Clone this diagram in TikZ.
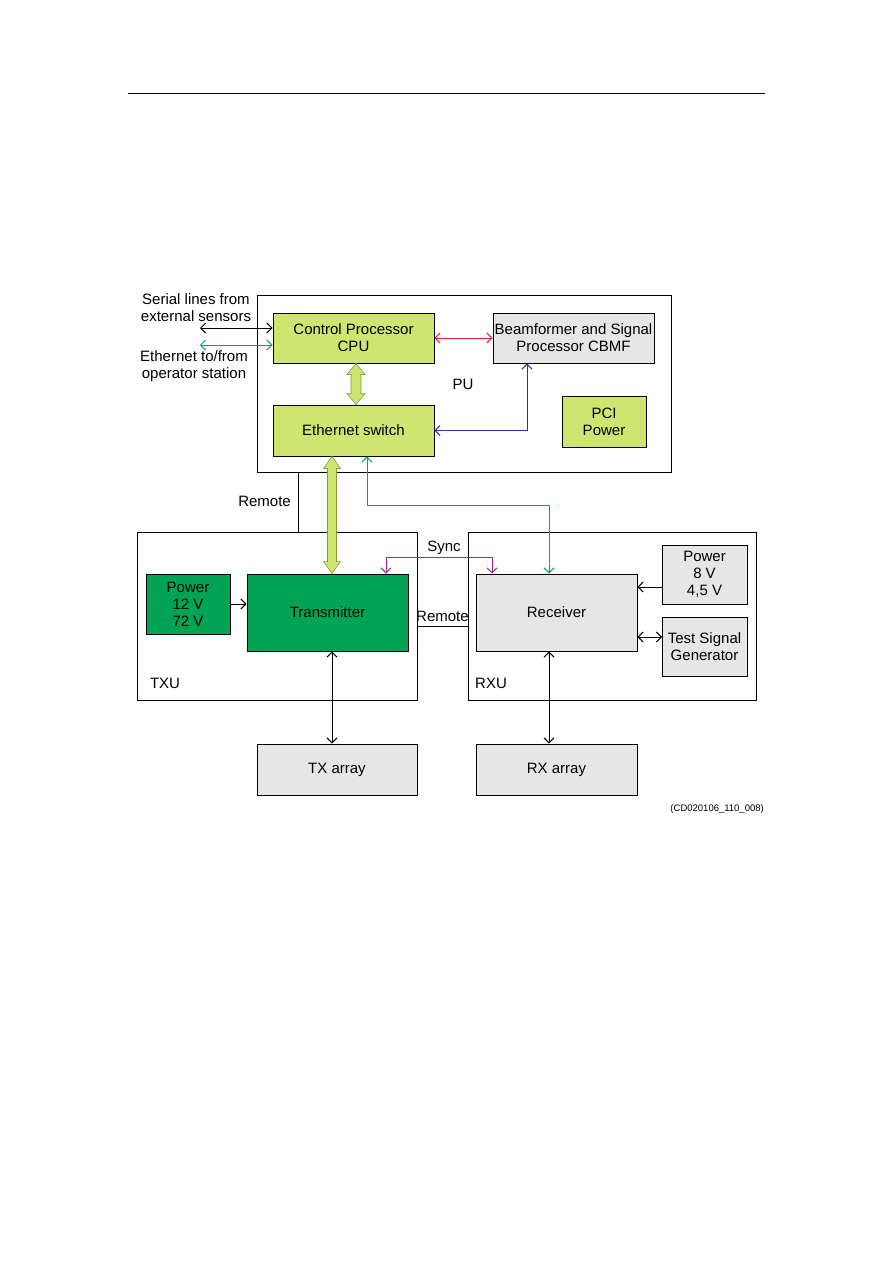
\documentclass[tikz,border=0pt]{standalone}
\usepackage{fontspec}
\setmainfont{Liberation Sans}
\usetikzlibrary{arrows.meta,calc}
\definecolor{lgreen}{RGB}{206,230,112}
\definecolor{dgreen}{RGB}{0,164,82}
\definecolor{lgrey}{RGB}{230,230,230}
\definecolor{tgreen}{RGB}{0,166,110}
\definecolor{purp}{RGB}{160,40,150}
\definecolor{navy}{RGB}{50,50,150}
\definecolor{redl}{RGB}{230,30,45}
\definecolor{olive}{RGB}{130,155,50}
\begin{document}
\begin{tikzpicture}[x=1pt,y=-1pt,
  every node/.style={font=\fontsize{15}{17}\selectfont, inner sep=0pt, align=center},
  frame/.style={draw, line width=0.9pt, fill=white},
  box/.style={draw, line width=0.9pt},
  lg/.style={box, fill=lgreen},
  dg/.style={box, fill=dgreen},
  gr/.style={box, fill=lgrey},
  tip/.style={line width=1pt, -{Straight Barb[length=5pt,width=10pt]}},
  dtip/.style={line width=1pt, {Straight Barb[length=5pt,width=10pt]}-{Straight Barb[length=5pt,width=10pt]}},
  fat/.style={draw=olive, fill=lgreen, line width=0.6pt, line join=miter},
  plain/.style={line width=0.9pt}
]
\useasboundingbox (0,0) rectangle (893,1263);
\draw[plain] (128,93) -- (765,93);

% PU
\node[frame, minimum width=414, minimum height=177] (pu) at (464,383.5) {};
\node[lg, minimum width=161, minimum height=50] (cpu) at (353.5,338) {Control Processor\\CPU};
\node[gr, minimum width=161, minimum height=50] (cbmf) at (573.5,338) {Beamformer and Signal\\Processor CBMF};
\node[lg, minimum width=161, minimum height=51] (sw) at (353.5,430.5) {Ethernet switch};
\node[lg, minimum width=84, minimum height=51] (pci) at (604,421.5) {PCI\\Power};
\node (pul) at (463,384) {PU};

% TXU
\node[frame, minimum width=280, minimum height=168] (txu) at (277,616) {};
\node[dg, minimum width=84, minimum height=60] (txpow) at (188,604) {Power\\12 V\\72 V};
\node[dg, minimum width=161, minimum height=77] (tx) at (327.5,612.5) {Transmitter};
\node (txul) at (165,683) {TXU};

% RXU
\node[frame, minimum width=288, minimum height=168] (rxu) at (612,616) {};
\node[gr, minimum width=161, minimum height=77] (rx) at (556.5,612.5) {Receiver};
\node[gr, minimum width=85, minimum height=59] (rxpow) at (704.5,574.5) {Power\\8 V\\4,5 V};
\node[gr, minimum width=85, minimum height=59] (tsg) at (704.5,646.5) {Test Signal\\Generator};
\node (rxul) at (491,683) {RXU};

% arrays
\node[gr, minimum width=160, minimum height=51] (txa) at (337,769.5) {TX array};
\node[gr, minimum width=161, minimum height=51] (rxa) at (556.5,769.5) {RX array};

% external labels
\node (ser) at (196,308) {Serial lines from\\external sensors};
\node (eth) at (194,366) {Ethernet to/from\\operator station};
\coordinate (s1) at (200,328);
\coordinate (s2) at (200,345);
\draw[dtip] (s1) -- (s1 -| cpu.west);
\draw[dtip, tgreen] (s2) -- (s2 -| cpu.west);

% PU internal
\draw[dtip, redl] (cpu.east) -- (cbmf.west);
\draw[dtip, navy] (sw.east) -| ([xshift=-46.5pt]cbmf.south);

% fat arrows
\draw[fat] let \p1=(cpu.south), \p2=(sw.north) in
  (\x1+2.5pt,\y1) -- (\x1+11.5pt,\y1-11pt) -- (\x1+7.5pt,\y1-11pt) -- (\x1+7.5pt,\y2+11pt)
  -- (\x1+11.5pt,\y2+11pt) -- (\x1+2.5pt,\y2) -- (\x1-6.5pt,\y2+11pt) -- (\x1-2.5pt,\y2+11pt)
  -- (\x1-2.5pt,\y1-11pt) -- (\x1-6.5pt,\y1-11pt) -- cycle;
\draw[fat] let \p1=(sw.south), \p2=(tx.north) in
  (\x1-21.5pt,\y1) -- (\x1-13pt,\y1-12pt) -- (\x1-17pt,\y1-12pt) -- (\x1-17pt,\y2+12pt)
  -- (\x1-13pt,\y2+12pt) -- (\x1-21.5pt,\y2) -- (\x1-30pt,\y2+12pt) -- (\x1-26pt,\y2+12pt)
  -- (\x1-26pt,\y1-12pt) -- (\x1-30pt,\y1-12pt) -- cycle;

% green ethernet line to receiver
\coordinate (g1) at (549,505);
\draw[dtip, tgreen] ([xshift=13.5pt]sw.south) |- (g1) -- (g1 |- rx.north);

% remote PU-TXU
\coordinate (r1) at (298,500);
\draw[plain] (r1 |- pu.south) -- (r1 |- txu.north);
\node[anchor=east] (rem1) at (291,501) {Remote};

% sync
\coordinate (sy) at (492,557);
\draw[dtip, purp] ([xshift=58.5pt]tx.north) |- (sy) -- (sy |- rx.north);
\node (sync) at (444,548) {Sync};

% remote TXU-RXU
\coordinate (r2) at (0,626);
\draw[plain] (r2 -| txu.east) -- (r2 -| rxu.west);
\node (rem2) at (442.5,616) {Remote};

% power arrows
\draw[tip] (txpow.east) -- (txpow.east -| tx.west);
\coordinate (q1) at (662,587);
\draw[tip] (q1) -- (q1 -| rx.east);
\coordinate (q2) at (662,637);
\draw[dtip] (q2) -- (q2 -| rx.east);

% array arrows
\coordinate (a1) at (332,700);
\draw[dtip] (a1 |- tx.south) -- (a1 |- txa.north);
\coordinate (a2) at (549,700);
\draw[dtip] (a2 |- rx.south) -- (a2 |- rxa.north);

\node[anchor=east, font=\fontsize{9.5}{11}\selectfont] (cd) at (764,809) {(CD020106\_110\_008)};
\end{tikzpicture}
\end{document}
